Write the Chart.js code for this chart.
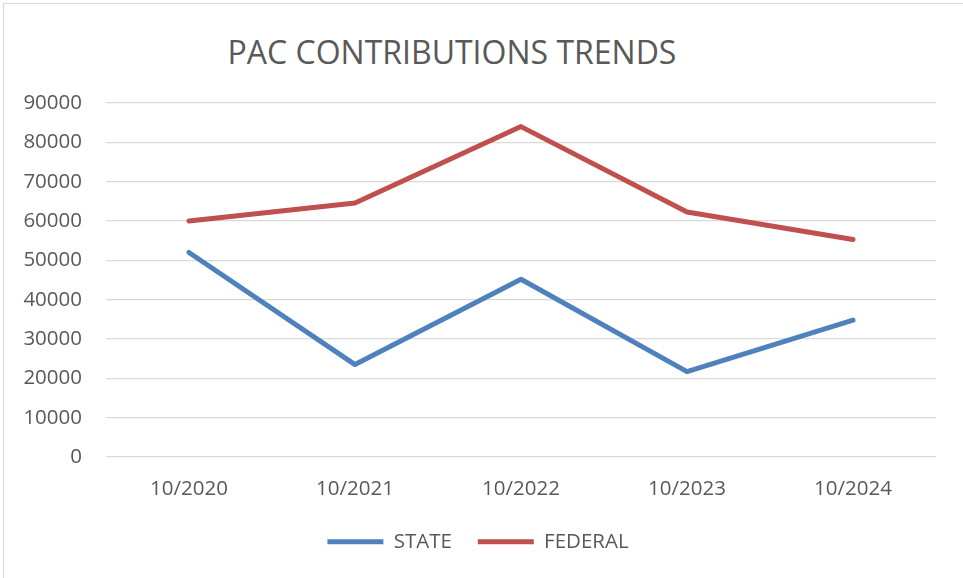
<!DOCTYPE html>
<html>
<head>
<meta charset="utf-8">
<script src="https://cdn.jsdelivr.net/npm/chart.js@4"></script>
<style>
    html, body { margin: 0; padding: 0; background: #fff; }
    #wrap { position: relative; width: 963px; height: 578px; overflow: hidden; }
    #frame { position: absolute; left: 3px; top: 3px; width: 980px; height: 600px; border: 1px solid #d9d9d9; box-sizing: border-box; }
    #title {
        position: absolute; left: 0; top: 36px; width: 904px; text-align: center;
        font-family: 'Open Sans', sans-serif; font-size: 32px; line-height: 1; color: #595959;
    }
    canvas { position: absolute; left: 0; top: 0; }
</style>
</head>
<body>
<div id="wrap">
    <div id="frame"></div>
    <div id="title">PAC CONTRIBUTIONS TRENDS</div>
    <canvas id="chart" width="963" height="578"></canvas>
</div>
<script>
// data
const categories = ['10/2020', '10/2021', '10/2022', '10/2023', '10/2024'];
const stateValues = [52000, 23500, 45200, 21700, 34800];
const federalValues = [60000, 64600, 84000, 62300, 55300];
const yTicks = [0, 10000, 20000, 30000, 40000, 50000, 60000, 70000, 80000, 90000];

const textColor = '#595959';
const fontFamily = "'Open Sans', sans-serif";

const ctx = document.getElementById('chart');
new Chart(ctx, {
    type: 'line',
    data: {
        labels: categories,
        datasets: [
            { label: 'STATE', data: stateValues, borderColor: '#4F81BD', backgroundColor: '#4F81BD' },
            { label: 'FEDERAL', data: federalValues, borderColor: '#C0504D', backgroundColor: '#C0504D' }
        ]
    },
    options: {
        responsive: false,
        animation: false,
        datasets: {
            line: { borderWidth: 5, pointRadius: 0, tension: 0, borderCapStyle: 'round', borderJoinStyle: 'round' }
        },
        layout: { padding: { left: 20, right: 27, top: 103, bottom: 25 } },
        scales: {
            x: {
                offset: true,
                grid: { display: false },
                border: { display: false },
                ticks: { color: textColor, font: { family: fontFamily, size: 20.5 }, padding: 12, maxRotation: 0 },
                afterFit: (scale) => { scale.height = 48.6; }
            },
            y: {
                min: 0,
                max: yTicks[yTicks.length - 1],
                afterBuildTicks: (scale) => { scale.ticks = yTicks.map(v => ({ value: v })); },
                grid: { color: '#d9d9d9', lineWidth: 1.3, drawTicks: false },
                border: { display: false },
                ticks: {
                    color: textColor, font: { family: fontFamily, size: 20.5 }, padding: 24,
                    callback: (value) => String(value)
                },
                afterFit: (scale) => { scale.width = 86; }
            }
        },
        plugins: {
            title: { display: false },
            tooltip: { enabled: false },
            legend: {
                position: 'bottom',
                maxHeight: 47.4,
                labels: {
                    usePointStyle: true,
                    pointStyle: 'line',
                    pointStyleWidth: 56,
                    padding: 26,
                    color: textColor,
                    font: { family: fontFamily, size: 20.5 }
                }
            }
        }
    }
});
</script>
</body>
</html>
